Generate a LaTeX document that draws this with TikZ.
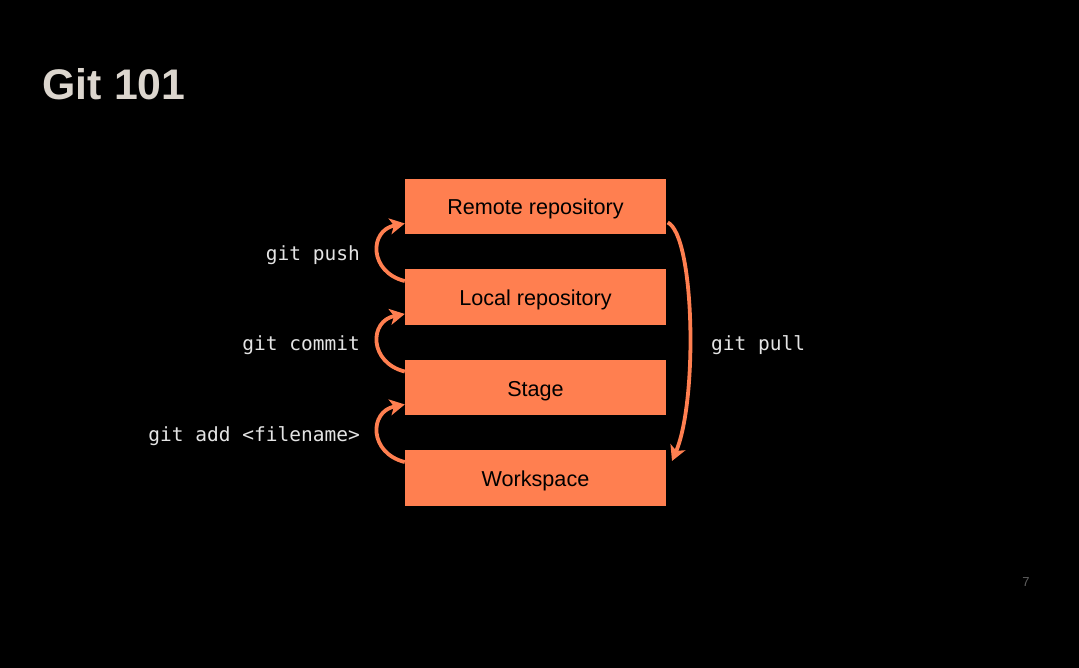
\documentclass[tikz,border=0pt]{standalone}
\usepackage{fontspec}
\setmainfont{Liberation Sans}
\newfontfamily\codefont{DejaVu Sans Mono}
\usetikzlibrary{arrows.meta}
\definecolor{coral}{HTML}{FF7F50}
\definecolor{labelgrey}{HTML}{E4E4E4}
\definecolor{titlegrey}{HTML}{DCD6CE}
\definecolor{pagegrey}{HTML}{5E5E5E}
\newcommand\boxtext[1]{\raisebox{-8.5pt}[0pt][0pt]{#1}}
\newcommand\cmdtext[1]{\raisebox{-6.5pt}[0pt][0pt]{#1}}
\tikzset{
  stagebox/.style={fill=coral, draw=none, minimum width=261pt, minimum height=55.5pt, inner sep=0pt,
    font=\fontsize{21.6}{24}\selectfont, text=black},
  cmdlabel/.style={font=\codefont\fontsize{19.5}{22}\selectfont, text=labelgrey, inner sep=0pt},
  flow/.style={draw=coral, line width=3.8pt, -{Stealth[length=15pt,width=16pt,inset=4pt]}},
}
\begin{document}
\begin{tikzpicture}[x=1pt,y=-1pt]
\fill[black] (0,0) rectangle (1079,668);
\useasboundingbox (0,0) rectangle (1079,668);

\node[anchor=base west, font=\bfseries\fontsize{42.8}{48}\selectfont, text=titlegrey, inner sep=0pt] (title) at (42.5,100) {Git 101};

\node[stagebox] (remote) at (535.5,206.5) {\boxtext{Remote repository}};
\node[stagebox] (local) at (535.5,297) {\boxtext{Local repository}};
\node[stagebox] (stage) at (535.5,387.5) {\boxtext{Stage}};
\node[stagebox] (work) at (535.5,478) {\boxtext{Workspace}};

\draw[flow] ([yshift=-12pt]local.north west) .. controls +(-36,-9) and +(-36,7) .. ([yshift=11pt]remote.south west);
\draw[flow] ([yshift=-12pt]stage.north west) .. controls +(-36,-9) and +(-36,7) .. ([yshift=11pt]local.south west);
\draw[flow] ([yshift=-12pt]work.north west) .. controls +(-36,-9) and +(-36,7) .. ([yshift=11pt]stage.south west);

\coordinate (pullend) at (672,461);
\draw[flow] ([xshift=1.5pt,yshift=12pt]remote.south east) .. controls +(27,13) and +(26,-61) .. (pullend);

\node[cmdlabel, anchor=east] (push) at (360,254) {\cmdtext{git push}};
\node[cmdlabel, anchor=east] (commit) at (360,344) {\cmdtext{git commit}};
\node[cmdlabel, anchor=east] (add) at (360,435) {\cmdtext{git add <filename>}};
\node[cmdlabel, anchor=west] (pull) at (711,344) {\cmdtext{git pull}};

\node[font=\fontsize{13}{15}\selectfont, text=pagegrey, inner sep=0pt] (page) at (1026,582) {7};
\end{tikzpicture}
\end{document}
